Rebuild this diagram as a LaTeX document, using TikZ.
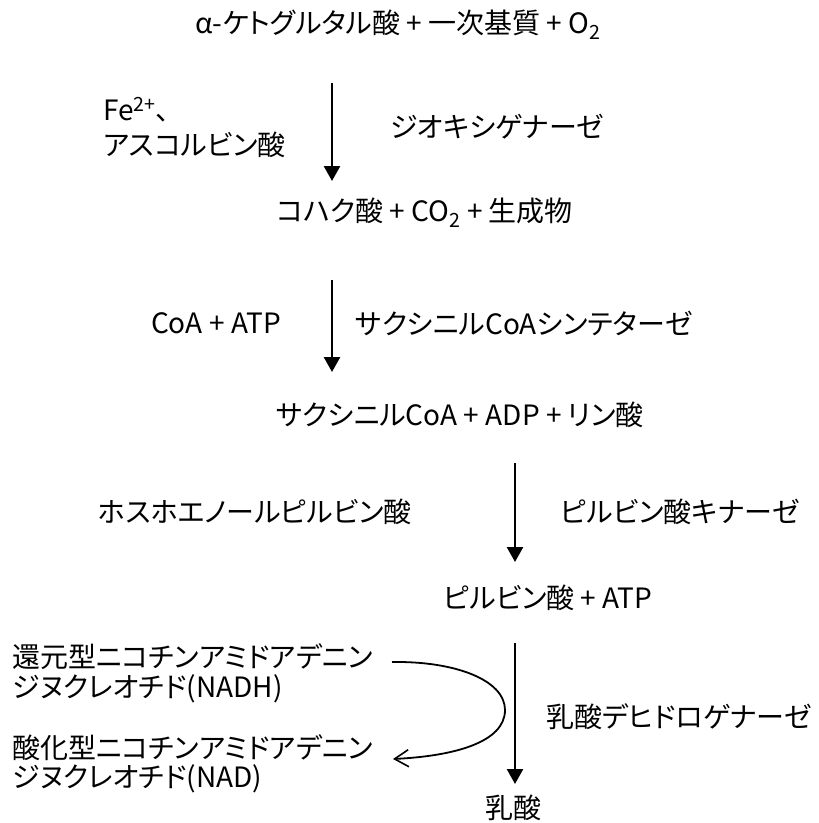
\documentclass[tikz,border=0pt]{standalone}
\usepackage{fontspec}
\setmainfont[RawFeature=+palt]{Noto Sans CJK JP}
\usetikzlibrary{arrows.meta}
\begin{document}
\begin{tikzpicture}[x=1pt,y=-1pt,
  lbl/.style={inner sep=0pt, font=\fontsize{28}{33}\selectfont},
  rxn/.style={line width=2.5pt, -{Triangle[width=16pt,length=15pt]}},
  cof/.style={line width=1.8pt, -{Straight Barb[length=14pt,width=17pt,line width=1.6pt]}}]
\path[use as bounding box] (0,0) rectangle (819,823);
% main chain
\node[lbl] (s1) at (398,25) {α-ケトグルタル酸 + 一次基質 + O\textsubscript{2}};
\node[lbl] (s2) at (425,213) {コハク酸 + CO\textsubscript{2} + 生成物};
\node[lbl] (s3) at (460,415) {サクシニルCoA + ADP + リン酸};
\node[lbl] (s4) at (548,598) {ピルビン酸 + ATP};
\node[lbl] (s5) at (513,808) {乳酸};
% cofactors
\node[lbl, anchor=west] (c1a) at (103,110) {Fe\textsuperscript{2+}、};
\node[lbl, anchor=west] (c1b) at (103,145) {アスコルビン酸};
\node[lbl] (c2) at (216,323) {CoA + ATP};
\node[lbl] (c3) at (255,512) {ホスホエノールピルビン酸};
\node[lbl, anchor=west] (n1a) at (12,657) {還元型ニコチンアミドアデニン};
\node[lbl, anchor=west] (n1b) at (12,689) {ジヌクレオチド(NADH)};
\node[lbl, anchor=west] (n2a) at (12,748) {酸化型ニコチンアミドアデニン};
\node[lbl, anchor=west] (n2b) at (12,779) {ジヌクレオチド(NAD)};
% enzymes
\node[lbl] (e1) at (497,127) {ジオキシゲナーゼ};
\node[lbl] (e2) at (524,323) {サクシニルCoAシンテターゼ};
\node[lbl] (e3) at (680,512) {ピルビン酸キナーゼ};
\node[lbl] (e4) at (679,717) {乳酸デヒドロゲナーゼ};
% arrow end points
\coordinate (a1s) at (332,83);  \coordinate (a1e) at (332,181);
\coordinate (a2s) at (332,280); \coordinate (a2e) at (332,372);
\coordinate (a3s) at (515,463); \coordinate (a3e) at (515,562);
\coordinate (a4s) at (515,643); \coordinate (a4e) at (515,784);
\draw[rxn] (a1s) -- (a1e);
\draw[rxn] (a2s) -- (a2e);
\draw[rxn] (a3s) -- (a3e);
\draw[rxn] (a4s) -- (a4e);
% NADH -> NAD
\coordinate (cs) at (392,662);
\coordinate (ce) at (393,759);
\draw[cof] (cs) .. controls (455,661) and (505,680) .. (505,710)
               .. controls (505,742) and (455,756) .. (ce);
\end{tikzpicture}
\end{document}
